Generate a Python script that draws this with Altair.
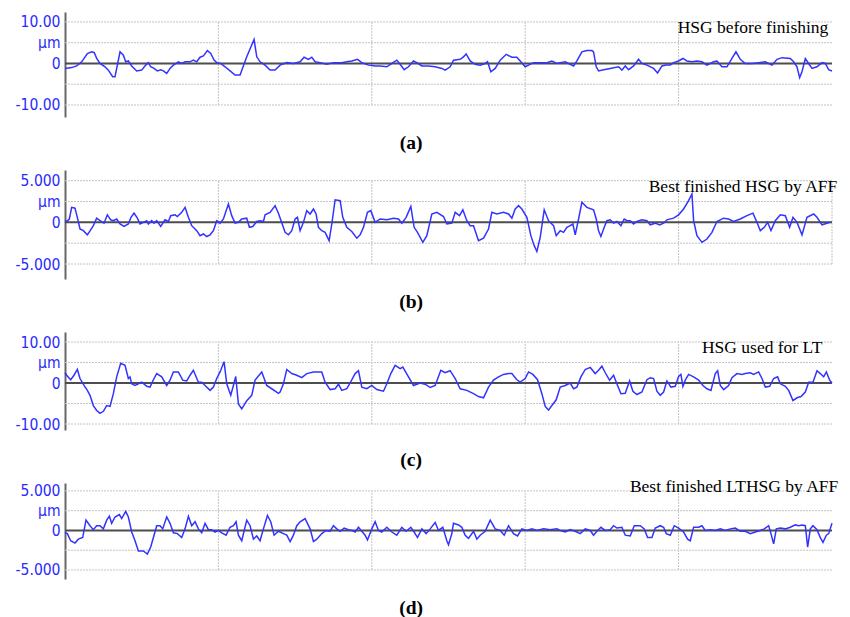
import altair as alt
import pandas as pd

# ---------------- data (distance along profile, height in um) ----------------
A_X = [0,20,35,50,67,80,88,95,105,120,130,143,150,157,165,175,182,190,200,215,230,242,250,257,267,277,287,295,305,315,325,340,350,360,375,385,395,405,415,427,437,447,455,467,480,495,510,525,545,567,575,585,600,615,630,645,665,685,705,717,730,740,750,765,785,805,830,845,860,877,890,910,930,945,965,980,995,1005,1017,1030,1045,1055,1070,1090,1110,1130,1140,1155,1165,1185,1195,1203,1215,1230,1245,1260,1267,1277,1290,1305,1323,1340,1355,1367,1380,1390,1405,1425,1445,1460,1475,1485,1500,1515,1525,1535,1550,1565,1580,1585,1593,1600,1615,1635,1660,1670,1680,1690,1705,1720,1730,1745,1765,1777,1790,1803,1815,1825,1840,1853,1865,1880,1895,1910,1925,1945,1955,1970,1985,2000,2012,2025,2040,2060,2080,2100,2120,2135,2150,2175,2185,2195,2203,2210,2220,2230,2240,2255,2270,2280,2290,2300]
A_Y = [-1.2,-1.0,-0.6,0.4,2.4,2.8,2.6,1.2,0,-0.8,-1.6,-3.2,-3.2,-0.4,2.8,2.0,0.4,0.6,-0.6,-1.8,-1.6,-0.4,0.2,-0.8,-1.2,-1.8,-1.5,-1.8,-2.4,-1.2,-0.4,0.4,0,0.4,0.4,0.8,0.4,1.5,1.8,3.1,2.4,0.8,0.2,0,-0.8,-1.8,-2.8,-2.8,1.6,5.8,1.6,0.4,-0.4,-1.6,-1.6,-0.4,0.2,0,0.4,1.5,1.0,1.5,0.4,0.2,-0.2,0.2,0.2,0.4,0.6,1.0,0.2,-0.4,-0.6,-0.6,-0.8,0,0.8,-0.2,-1.5,-0.8,0.6,0.2,-0.6,-0.6,-0.8,-1.2,-1.6,-0.8,0.8,1.0,1.6,2.3,0.6,-0.2,-0.4,0,0.4,-2.0,-1.2,0.8,2.2,1.5,1.5,0.4,-0.8,-0.4,0.2,0.2,0.2,0.6,0,0.2,0.4,-0.2,-0.6,0.6,2.8,3.1,3.1,2.8,-0.8,-1.8,-1.5,-1.2,-0.8,-1.6,-0.6,-1.5,-0.6,1.0,0,-0.4,-1.2,-2.3,-0.6,-0.4,-0.4,0.2,0.6,1.2,0.6,0.4,0.6,0.4,-0.4,0.4,0.6,-0.8,-0.8,1.2,2.8,1.0,0,0,0.2,0.4,-0.4,1.0,1.4,1.2,0.4,-0.8,-3.4,-2.0,1.2,0,-1.2,-0.8,0.2,0,-1.5,-1.8]

B_X = [0,5,13,20,30,37,45,55,67,77,85,95,105,117,127,137,145,155,165,177,190,198,207,217,225,235,245,250,260,267,275,287,300,310,317,330,337,350,360,370,380,395,405,415,425,435,445,455,465,475,490,500,510,520,530,545,553,563,575,585,595,600,615,630,640,660,670,680,690,697,705,715,725,735,745,753,760,770,780,792,800,810,825,833,845,860,875,885,895,907,917,930,945,965,985,1000,1010,1023,1037,1047,1057,1073,1085,1100,1115,1135,1145,1160,1170,1183,1193,1205,1215,1225,1240,1255,1270,1280,1295,1315,1330,1340,1350,1360,1370,1385,1397,1407,1415,1425,1437,1450,1465,1473,1485,1495,1505,1515,1523,1530,1540,1550,1565,1585,1593,1600,1607,1617,1625,1635,1645,1655,1667,1677,1685,1695,1705,1715,1730,1745,1755,1770,1783,1795,1805,1825,1840,1855,1870,1880,1885,1895,1910,1925,1940,1955,1965,1975,1990,2005,2025,2045,2063,2075,2085,2097,2107,2117,2130,2145,2160,2173,2183,2195,2210,2225,2245,2255,2270,2285,2295]
B_Y = [0.2,0.1,0.4,1.8,1.7,0.6,-0.8,-1.0,-1.5,-0.9,-0.4,0.5,0.2,-0.1,0.9,0.3,0.2,0.4,-0.2,-0.5,-0.2,0.6,1.1,0.5,-0.2,0,0.2,-0.2,0.2,-0.1,0.2,-0.5,0.3,0.1,0.8,0.9,0.7,1.2,1.8,0.6,-0.4,-1.0,-1.6,-1.4,-1.7,-1.5,-1.0,0.2,-0.1,0.4,2.2,0.8,-0.1,0,0.4,0.5,-0.6,-0.5,0.1,0.2,0.1,0.9,1.2,2.0,1.1,-1.2,-1.5,-1.0,0.4,0.6,-1.0,0,1.4,1.0,1.6,1.0,-0.6,-1.0,-1.2,-2.2,-0.2,2.7,2.6,0.6,-0.6,-1.1,-1.9,-1.5,-0.6,1.2,1.4,0,0.4,0.3,0.5,0.4,-0.1,0.6,1.9,-0.6,-1.2,-2.4,-1.6,1.0,1.2,0.7,-0.2,-0.1,1.2,0.8,1.5,0.2,-0.4,-0.4,-2.2,-1.9,-0.8,1.2,1.0,1.2,1.0,0.5,1.6,2.0,1.6,0.6,-1.6,-2.8,-3.5,-1.8,1.5,0.2,-0.4,-1.6,-1.0,-1.2,-0.6,-0.4,-0.2,-1.5,0.4,2.4,1.8,1.5,0.4,-1.0,-1.7,-0.6,0.2,0.3,-0.1,0.1,-0.4,0.4,0.2,0.2,-0.2,0.1,0.3,0.2,-0.3,-0.1,-0.3,-0.1,0.3,0.5,0.9,1.6,2.6,3.4,0.2,-1.6,-2.4,-2.0,-1.2,0.1,0.3,0.5,0.4,0.1,0.4,0.8,1.1,0,-1.0,-0.6,0,-1.0,0.2,0.9,0.8,-0.6,0.6,0,-1.5,0.6,1.0,0.6,-0.3,-0.1,0]

C_X = [0,5,17,27,37,45,57,67,75,85,95,105,115,125,135,145,155,167,180,190,195,200,210,220,230,245,255,265,275,290,305,315,325,340,353,365,375,385,400,410,420,435,445,455,465,477,485,497,505,512,520,530,545,560,570,590,605,620,640,645,655,665,680,695,710,725,745,770,780,795,810,820,830,845,855,870,880,890,905,920,935,955,965,977,990,1005,1013,1030,1045,1065,1080,1095,1110,1127,1140,1155,1170,1185,1205,1225,1240,1255,1270,1285,1300,1315,1330,1340,1355,1365,1380,1390,1403,1417,1430,1440,1450,1460,1473,1485,1500,1515,1525,1535,1547,1560,1575,1590,1600,1610,1620,1633,1645,1657,1667,1680,1693,1703,1715,1730,1745,1755,1765,1775,1785,1795,1805,1817,1830,1840,1847,1853,1860,1870,1885,1900,1913,1925,1937,1950,1957,1965,1975,1990,2000,2015,2030,2040,2055,2065,2080,2090,2100,2113,2125,2137,2145,2160,2170,2183,2195,2207,2220,2230,2243,2255,2265,2275,2283,2293,2300]
C_Y = [2.5,1.9,0.8,1.9,3.3,1.1,-0.6,-1.8,-3.0,-5.5,-6.7,-7.4,-6.9,-5.5,-5.7,-2.6,1.5,4.8,4.3,1.1,1.5,-0.2,-0.6,-0.2,0.2,-0.8,-1.0,0.8,2.3,1.5,-0.6,0.7,2.7,2.7,0.7,0.5,1.9,3.1,0.2,0.2,-0.6,-1.8,-1.0,1.1,2.7,5.2,-0.2,-3.0,-0.6,1.6,-5.1,-6.3,-4.3,-3.0,0.7,2.7,-0.6,-1.4,-2.5,-2.2,-0.2,3.3,2.3,1.9,1.3,2.3,2.7,2.7,0.2,-1.6,-1.4,-0.3,-1.8,-1.4,0,2.3,3.0,-1.0,-1.4,-0.6,-1.6,-2.0,-0.2,2.3,4.3,3.5,3.9,1.5,-0.6,0,-0.3,-1.1,-0.6,3.1,2.5,3.0,1.1,-1.4,-1.8,-2.6,-3.3,-3.6,-1.0,0.7,1.5,2.1,2.3,2.3,0.8,0.2,1.1,2.7,2.1,0.8,-2.6,-5.7,-6.6,-5.5,-4.1,-1.0,-0.6,0,-1.4,-1.0,1.5,3.3,3.8,2.3,3.1,4.1,2.5,0.7,1.9,-0.6,-2.6,-2.5,0.5,-2.0,-2.8,-2.2,0.8,1.3,1.1,-2.0,-3.0,-2.2,0.5,-1.0,-0.8,1.6,2.1,-0.8,0.7,2.1,1.5,0.7,-0.6,-1.4,-1.8,2.3,3.0,-0.6,-1.6,-0.6,1.3,2.3,2.1,2.3,2.5,2.1,2.7,1.1,-1.0,-0.8,1.1,1.5,-0.2,-0.8,-1.8,-4.3,-3.6,-3.3,-2.2,0.2,0.2,3.0,2.3,1.5,2.7,0.7,0]

D_X = [0,7,17,30,40,53,63,75,85,95,105,115,125,133,140,150,163,170,182,190,200,210,220,235,247,257,267,275,285,293,305,315,325,337,350,360,370,380,390,400,410,420,430,440,450,460,470,483,495,505,513,520,530,545,555,565,575,585,595,607,617,627,640,655,665,675,685,695,705,720,735,745,755,770,783,795,805,815,825,837,850,860,870,880,890,900,907,920,930,940,950,965,980,995,1010,1023,1037,1047,1057,1070,1083,1095,1110,1120,1133,1145,1150,1160,1165,1180,1190,1200,1210,1225,1235,1245,1260,1275,1290,1305,1317,1330,1345,1357,1370,1385,1400,1415,1435,1455,1475,1485,1500,1515,1530,1545,1560,1575,1585,1595,1607,1620,1635,1645,1655,1670,1680,1695,1707,1725,1737,1747,1760,1770,1785,1795,1803,1815,1827,1840,1855,1867,1875,1885,1900,1910,1920,1935,1950,1965,1980,1995,2010,2025,2040,2055,2070,2085,2097,2110,2117,2125,2133,2145,2160,2175,2190,2200,2210,2220,2227,2235,2243,2255,2265,2273,2283,2290,2300]
D_Y = [-0.3,-0.4,-1.3,-1.6,-1.1,-0.9,1.3,0.6,0.1,0.6,0.6,0.2,1.3,1.8,0.9,1.7,2.0,1.5,2.4,1.7,-0.2,-1.3,-2.6,-2.6,-3.0,-2.1,-0.6,0.6,0.6,0.2,1.7,0.9,-0.3,-0.4,-0.9,0.2,1.8,0.6,1.1,0.2,-0.3,0.9,0.1,0.1,-0.2,0,-0.3,-0.6,0.4,0.6,1.1,-0.6,-1.3,1.3,0.6,-1.1,-0.7,-1.3,0.2,1.9,1.1,-0.6,-0.1,-0.4,-0.6,-1.4,-0.6,0.6,1.1,1.5,0.2,-1.4,-1.1,-0.4,0,-0.1,0.6,0.2,-0.1,0.3,0.1,0,-0.2,0.4,-0.1,-0.6,-1.2,0.2,1.1,0,-0.2,0.4,-0.2,-0.6,0.4,-0.1,0.4,-0.2,-0.9,0.2,-0.4,0.2,1.0,0,0.4,-1.3,-1.8,-0.4,0.9,0.7,0.4,-0.6,-1.0,-0.1,-1.1,-0.6,-0.1,1.3,0.2,0,-0.6,0.6,-0.4,-0.7,0.2,0,0.2,0,0.2,0.1,0.2,0,-0.2,0.1,-0.1,-0.4,0.2,0,-0.6,-0.1,0.4,0,0.1,0.6,0.3,0.4,-0.6,-0.7,0.6,0.6,0.2,-0.9,-0.9,0.3,0.6,0.4,-0.4,-0.6,0.6,0.3,-0.2,-1.1,-1.3,0.4,0.4,0.6,0,0.1,0,0.2,0,0.2,0.3,-0.1,-0.1,-0.4,-0.2,0,0.2,0.6,-0.4,-1.7,0.2,0.3,0.2,0.4,0.7,0.6,0.7,0.6,-2.1,0.2,0.6,0.1,-0.9,-1.5,-0.6,-0.4,0.9]

TITLES = ["HSG before finishing", "Best finished HSG by AFF", "HSG used for LT", "Best finished LTHSG by AFF"]
CAPTIONS = ["(a)", "(b)", "(c)", "(d)"]
TICKS_10 = [10, 5, 0, -5, -10]
LABELS_10 = ["10.00", "\u03bcm", "0", "", "-10.00"]
TICKS_5 = [5, 2.5, 0, -2.5, -5]
LABELS_5 = ["5.000", "\u03bcm", "0", "", "-5.000"]
GRID_X = [460, 920, 1380, 1840]
X_MAX = 2300

BLUE = "#3333ff"
LABEL_BLUE = "#2a2aff"
GRID = "#c4c4c4"


def panel(xs, ys, title, caption, ticks, labels, dom, height, title_pos, vgrid, cap_dy):
    xsc = alt.Scale(domain=[0, X_MAX], nice=False, zero=False)
    ysc = alt.Scale(domain=dom, nice=False, zero=False)
    expr = " : ".join(
        f"datum.value == {t} ? '{l}'" for t, l in zip(ticks, labels)
    ) + " : ''"
    yaxis = alt.Axis(
        values=ticks, labelExpr=expr, ticks=False, grid=False, title=None,
        domainColor="#666666", domainWidth=2, labelColor=LABEL_BLUE,
        labelFont="DejaVu Sans Condensed, DejaVu Sans", labelFontSize=15.5,
        labelPadding=5, labelOverlap=False, labelFlush=False,
    )

    def X(f):
        return alt.X(f, type="quantitative", scale=xsc, axis=None)

    def Y(f):
        return alt.Y(f, type="quantitative", scale=ysc, axis=yaxis)

    big = ticks[0]
    hg = pd.DataFrame({"y": [t for t in ticks if t != 0], "x0": 0, "x1": X_MAX})
    vg = pd.DataFrame({"x": vgrid, "lo": -big, "hi": big})
    zl = pd.DataFrame({"y": [0], "x0": [0], "x1": [X_MAX]})
    prof = pd.DataFrame({"x": xs, "y": ys})
    tt = pd.DataFrame({"x": [title_pos[0]], "y": [title_pos[1]], "t": [title]})
    cp = pd.DataFrame({"x": [1038], "y": [0], "t": [caption]})

    hgrid = alt.Chart(hg).mark_rule(color=GRID, strokeDash=[2, 1], strokeWidth=1).encode(
        x=X("x0"), x2="x1", y=Y("y"))
    vgr = alt.Chart(vg).mark_rule(color=GRID, strokeDash=[2, 1], strokeWidth=1).encode(
        x=X("x"), y=Y("lo"), y2="hi")
    zero = alt.Chart(zl).mark_rule(color="#4d4d4d", strokeWidth=2).encode(
        x=X("x0"), x2="x1", y=Y("y"))
    line = alt.Chart(prof).mark_line(color=BLUE, strokeWidth=1.5).encode(
        x=X("x"), y=Y("y"))
    ttl = alt.Chart(tt).mark_text(
        align="right", baseline="alphabetic", font="Liberation Serif",
        fontSize=17.5, color="black").encode(x=X("x"), y=Y("y"), text="t:N")
    cap = alt.Chart(cp).mark_text(
        align="center", baseline="middle", font="Liberation Serif",
        fontSize=19.5, fontWeight="bold", color="black").encode(
        x=X("x"), y=alt.value(height + cap_dy), text="t:N")
    return alt.layer(hgrid, vgr, zero, line, ttl, cap).properties(width=767, height=height)


pa = panel(A_X, A_Y, TITLES[0], CAPTIONS[0], TICKS_10, LABELS_10, [-12.9, 12.4], 105,
           (2289, 7.35), GRID_X, 26)
pb = panel(B_X, B_Y, TITLES[1], CAPTIONS[1], TICKS_5, LABELS_5, [-6.8, 6.28], 109,
           (2316, 3.67), GRID_X + [X_MAX], 23)
pc = panel(C_X, C_Y, TITLES[2], CAPTIONS[2], TICKS_10, LABELS_10, [-11.46, 12.44], 98,
           (2271, 7.3), GRID_X, 30)
pd_ = panel(D_X, D_Y, TITLES[3], CAPTIONS[3], TICKS_5, LABELS_5, [-6.14, 6.0], 96,
            (2319, 4.9), GRID_X, 29)

chart = alt.vconcat(pa, pb, pc, pd_, spacing=53, bounds="flush").properties(
    padding={"left": 15, "top": 12, "right": 5, "bottom": 0}
).configure_view(stroke=None)

chart.save("out.html", embed_options={"renderer": "svg", "actions": False})
